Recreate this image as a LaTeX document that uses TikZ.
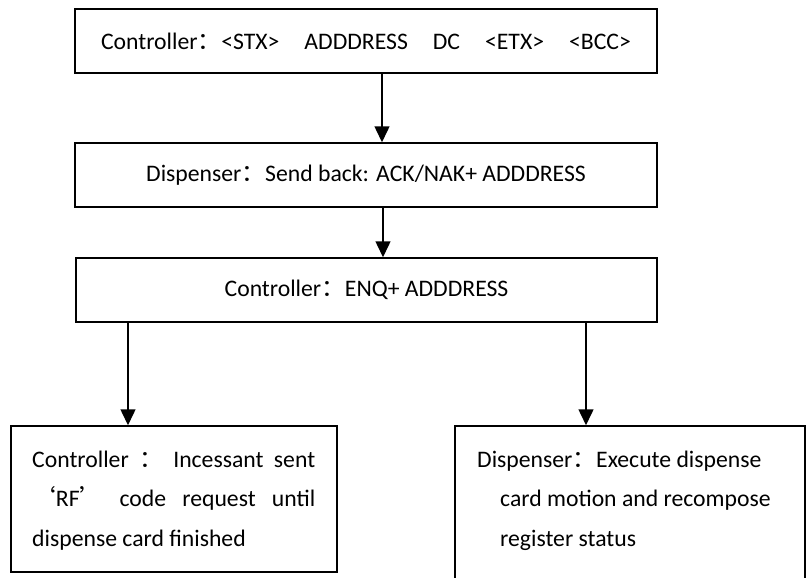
\documentclass[tikz,border=0pt]{standalone}
\usepackage{fontspec}
\setmainfont{Carlito}
\newfontfamily\cjk{Noto Sans CJK SC}
\usetikzlibrary{arrows.meta}
\newcommand{\fwc}{{\cjk ：}}
\newcommand{\myoq}{{\cjk ‘}}
\newcommand{\mycq}{{\cjk ’}}
\begin{document}
\begin{tikzpicture}[x=1pt,y=-1pt,
  every node/.style={font=\fontsize{23.7}{39.5}\selectfont},
  box/.style={draw, line width=1.5pt, inner sep=0pt, anchor=center},
  para/.style={anchor=base west, inner sep=0pt},
  arr/.style={line width=1.5pt, -{Triangle[length=16pt,width=15pt]}}]
\useasboundingbox (0,0) rectangle (806,578);
\node[box, minimum width=582pt, minimum height=64pt] (b1) at (366,41)
  {Controller\fwc{}<STX>\hspace{25pt}ADDDRESS\hspace{25pt}DC\hspace{25pt}<ETX>\hspace{25pt}<BCC>};
\node[box, minimum width=582pt, minimum height=64pt] (b2) at (366,175)
  {Dispenser\fwc{}Send back: ACK/NAK+ ADDDRESS};
\node[box, minimum width=581pt, minimum height=64pt] (b3) at (366.5,290)
  {Controller\fwc{}ENQ+ ADDDRESS};
\node[box, minimum width=326pt, minimum height=146pt] (lb) at (174,499) {};
\node[para] (lt) at (32,467)
  {\parbox[t]{283pt}{\setlength{\parindent}{0pt}\fontsize{23.7}{39.5}\selectfont
   Controller \fwc{} Incessant sent\linebreak
   \myoq{}RF\mycq{} code request until\linebreak
   dispense card finished}};
\node[box, minimum width=350pt, minimum height=180pt] (rb) at (630,516) {};
\node[para] (rt) at (477,467)
  {\parbox[t]{320pt}{\setlength{\parindent}{0pt}\fontsize{23.7}{39.5}\selectfont
   Dispenser\fwc{}Execute dispense\\
   \hspace*{23pt}card motion and recompose\\
   \hspace*{23pt}register status}};
\draw[arr] ([xshift=16pt]b1.south) -- ([xshift=16pt]b2.north);
\draw[arr] ([xshift=17pt]b2.south) -- ([xshift=16.5pt]b3.north);
\draw[arr] ([xshift=-238.5pt]b3.south) -- ([xshift=-46pt]lb.north);
\draw[arr] ([xshift=219.5pt]b3.south) -- ([xshift=-44pt]rb.north);
\end{tikzpicture}
\end{document}
